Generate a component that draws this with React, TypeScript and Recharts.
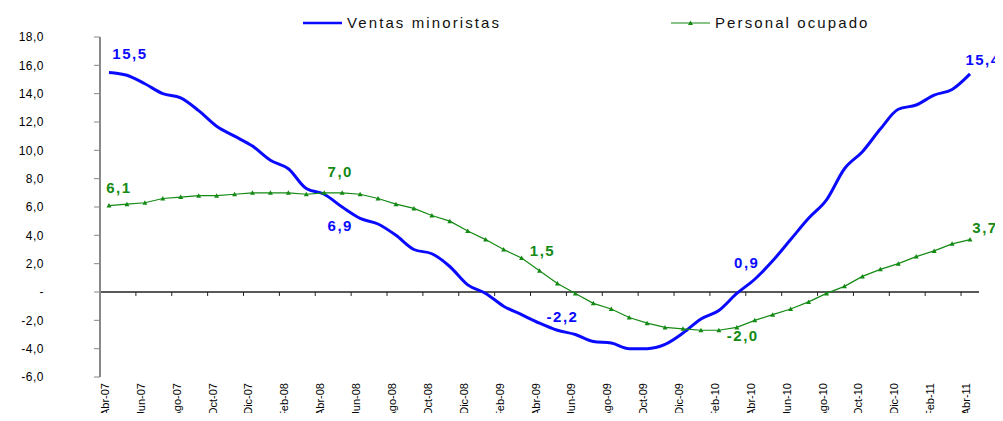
import React from "react";
import { LineChart, Line, XAxis, YAxis, ReferenceLine, Legend, LabelList } from "recharts";

const months = [
  "Abr-07","May-07","Jun-07","Jul-07","Ago-07","Sep-07","Oct-07","Nov-07","Dic-07","Ene-08","Feb-08","Mar-08",
  "Abr-08","May-08","Jun-08","Jul-08","Ago-08","Sep-08","Oct-08","Nov-08","Dic-08","Ene-09","Feb-09","Mar-09",
  "Abr-09","May-09","Jun-09","Jul-09","Ago-09","Sep-09","Oct-09","Nov-09","Dic-09","Ene-10","Feb-10","Mar-10",
  "Abr-10","May-10","Jun-10","Jul-10","Ago-10","Sep-10","Oct-10","Nov-10","Dic-10","Ene-11","Feb-11","Mar-11",
  "Abr-11",
];

const ventas = [
  15.5, 15.3, 14.7, 14.0, 13.7, 12.8, 11.7, 11.0, 10.3, 9.3, 8.7, 7.3,
  6.9, 6.0, 5.2, 4.8, 4.0, 3.0, 2.7, 1.8, 0.5, -0.1, -1.0, -1.6,
  -2.2, -2.7, -3.0, -3.5, -3.6, -4.0, -4.0, -3.7, -2.9, -1.9, -1.3, -0.1,
  0.9, 2.2, 3.7, 5.2, 6.5, 8.7, 9.9, 11.5, 12.9, 13.2, 13.9, 14.3,
  15.4,
];

const personal = [
  6.1, 6.2, 6.3, 6.6, 6.7, 6.8, 6.8, 6.9, 7.0, 7.0, 7.0, 6.9,
  7.0, 7.0, 6.9, 6.6, 6.2, 5.9, 5.4, 5.0, 4.3, 3.7, 3.0, 2.4,
  1.5, 0.6, -0.1, -0.8, -1.2, -1.8, -2.2, -2.5, -2.6, -2.7, -2.7, -2.5,
  -2.0, -1.6, -1.2, -0.7, -0.1, 0.4, 1.1, 1.6, 2.0, 2.5, 2.9, 3.4,
  3.7,
];

const seriesNames = { ventas: "Ventas minoristas", personal: "Personal ocupado" };
const yTicks = [-6, -4, -2, 0, 2, 4, 6, 8, 10, 12, 14, 16, 18];
const labelEvery = 12;

const data = months.map((m, i) => ({ i, month: m, ventas: ventas[i], personal: personal[i] }));
const xTicks = months.map((_, i) => i).filter((i) => i % 2 === 0);
const boundaries = xTicks.slice(1).map((i) => i - 0.5);

const FONT = "'Liberation Sans', Arial, Helvetica, sans-serif";
const BLUE = "#0a0aff";
const GREEN = "#138a13";

const fmt = (v: number) => (v === 0 ? "-" : v.toFixed(1).replace(".", ","));

const labelOffsets: Record<string, Record<number, [number, number]>> = {
  ventas: { 0: [21, -19], 12: [16, 31], 24: [23, -7], 36: [-8, -17], 48: [13, -14] },
  personal: { 0: [10, -18], 12: [16, -21], 24: [3, -20], 36: [-12, 15], 48: [15, -12] },
};

const makeLabel = (key: string, color: string) => (props: any) => {
  const { x, y, value, index } = props;
  if (index % labelEvery !== 0) return null;
  const off = labelOffsets[key][index] || [0, -15];
  return (
    <text
      x={x + off[0]}
      y={y + off[1]}
      textAnchor="middle"
      dominantBaseline="central"
      fill={color}
      fontFamily={FONT}
      fontWeight="bold"
      fontSize={15}
      letterSpacing={1.5}
    >
      {fmt(value)}
    </text>
  );
};

const TriDot = (props: any) => {
  const { cx, cy } = props;
  if (cx == null || cy == null) return null;
  return <polygon points={`${cx},${cy - 2.5} ${cx + 2.5},${cy + 2} ${cx - 2.5},${cy + 2}`} fill={GREEN} />;
};

const XTick = (props: any) => {
  const { x, y, payload } = props;
  return (
    <text
      x={x}
      y={y}
      transform={`rotate(-90, ${x}, ${y})`}
      textAnchor="end"
      fontFamily={FONT}
      fontSize={11}
      fill="#000"
    >
      {months[payload.value]}
    </text>
  );
};

const legendPos: Record<string, number> = { ventas: 295, personal: 663 };

const LegendContent = (props: any) => {
  const payload = props.payload || [];
  return (
    <div style={{ position: "relative", height: 22, width: 995 }}>
      {payload.map((p: any) => {
        const isGreen = p.dataKey === "personal";
        return (
          <div
            key={p.value}
            style={{
              position: "absolute",
              left: legendPos[p.dataKey],
              top: 0,
              display: "flex",
              alignItems: "center",
              height: 16,
            }}
          >
            <svg width={40} height={16}>
              <line x1={0} y1={8} x2={39} y2={8} stroke={p.color} strokeWidth={isGreen ? 1.2 : 2.5} />
              {isGreen ? <polygon points="19.5,5.5 22,10 17,10" fill={p.color} /> : null}
            </svg>
            <span
              style={{
                marginLeft: 4,
                fontFamily: FONT,
                fontSize: 15,
                letterSpacing: 2.1,
                color: "#111",
                lineHeight: "16px",
                whiteSpace: "nowrap",
              }}
            >
              {p.value}
            </span>
          </div>
        );
      })}
    </div>
  );
};

export default function App() {
  return (
    <div style={{ width: 995, height: 413, marginBottom: -8 }}>
      <LineChart width={995} height={413} data={data} margin={{ top: 7, right: 24, left: 0, bottom: 0 }}>
        <Legend verticalAlign="top" align="left" content={<LegendContent />} />
        <XAxis
          dataKey="i"
          type="number"
          domain={[-0.5, 48.5]}
          ticks={xTicks}
          interval={0}
          axisLine={false}
          tickLine={false}
          tickSize={0}
          tickMargin={6}
          height={44}
          tick={<XTick />}
        />
        <YAxis
          type="number"
          domain={[-6, 18]}
          ticks={yTicks}
          interval={0}
          width={92}
          tickSize={6}
          tickMargin={50}
          axisLine={{ stroke: "#888", strokeWidth: 2 }}
          tickLine={{ stroke: "#888", strokeWidth: 1 }}
          tickFormatter={fmt}
          tick={{ fontFamily: FONT, fontSize: 12, fill: "#000", letterSpacing: 0.5 } as any}
        />
        <ReferenceLine y={0} stroke="#222" strokeWidth={1.3} />
        {boundaries.map((b) => (
          <ReferenceLine
            key={b}
            segment={[{ x: b, y: 0 }, { x: b, y: -0.28 }]}
            stroke="#222"
            strokeWidth={1}
            ifOverflow="visible"
          />
        ))}
        <Line
          name={seriesNames.ventas}
          dataKey="ventas"
          type="monotone"
          stroke={BLUE}
          strokeWidth={3}
          dot={false}
          activeDot={false}
          isAnimationActive={false}
        >
          <LabelList dataKey="ventas" content={makeLabel("ventas", BLUE)} />
        </Line>
        <Line
          name={seriesNames.personal}
          dataKey="personal"
          type="linear"
          stroke={GREEN}
          strokeWidth={1.2}
          dot={<TriDot />}
          activeDot={false}
          isAnimationActive={false}
        >
          <LabelList dataKey="personal" content={makeLabel("personal", GREEN)} />
        </Line>
      </LineChart>
    </div>
  );
}
